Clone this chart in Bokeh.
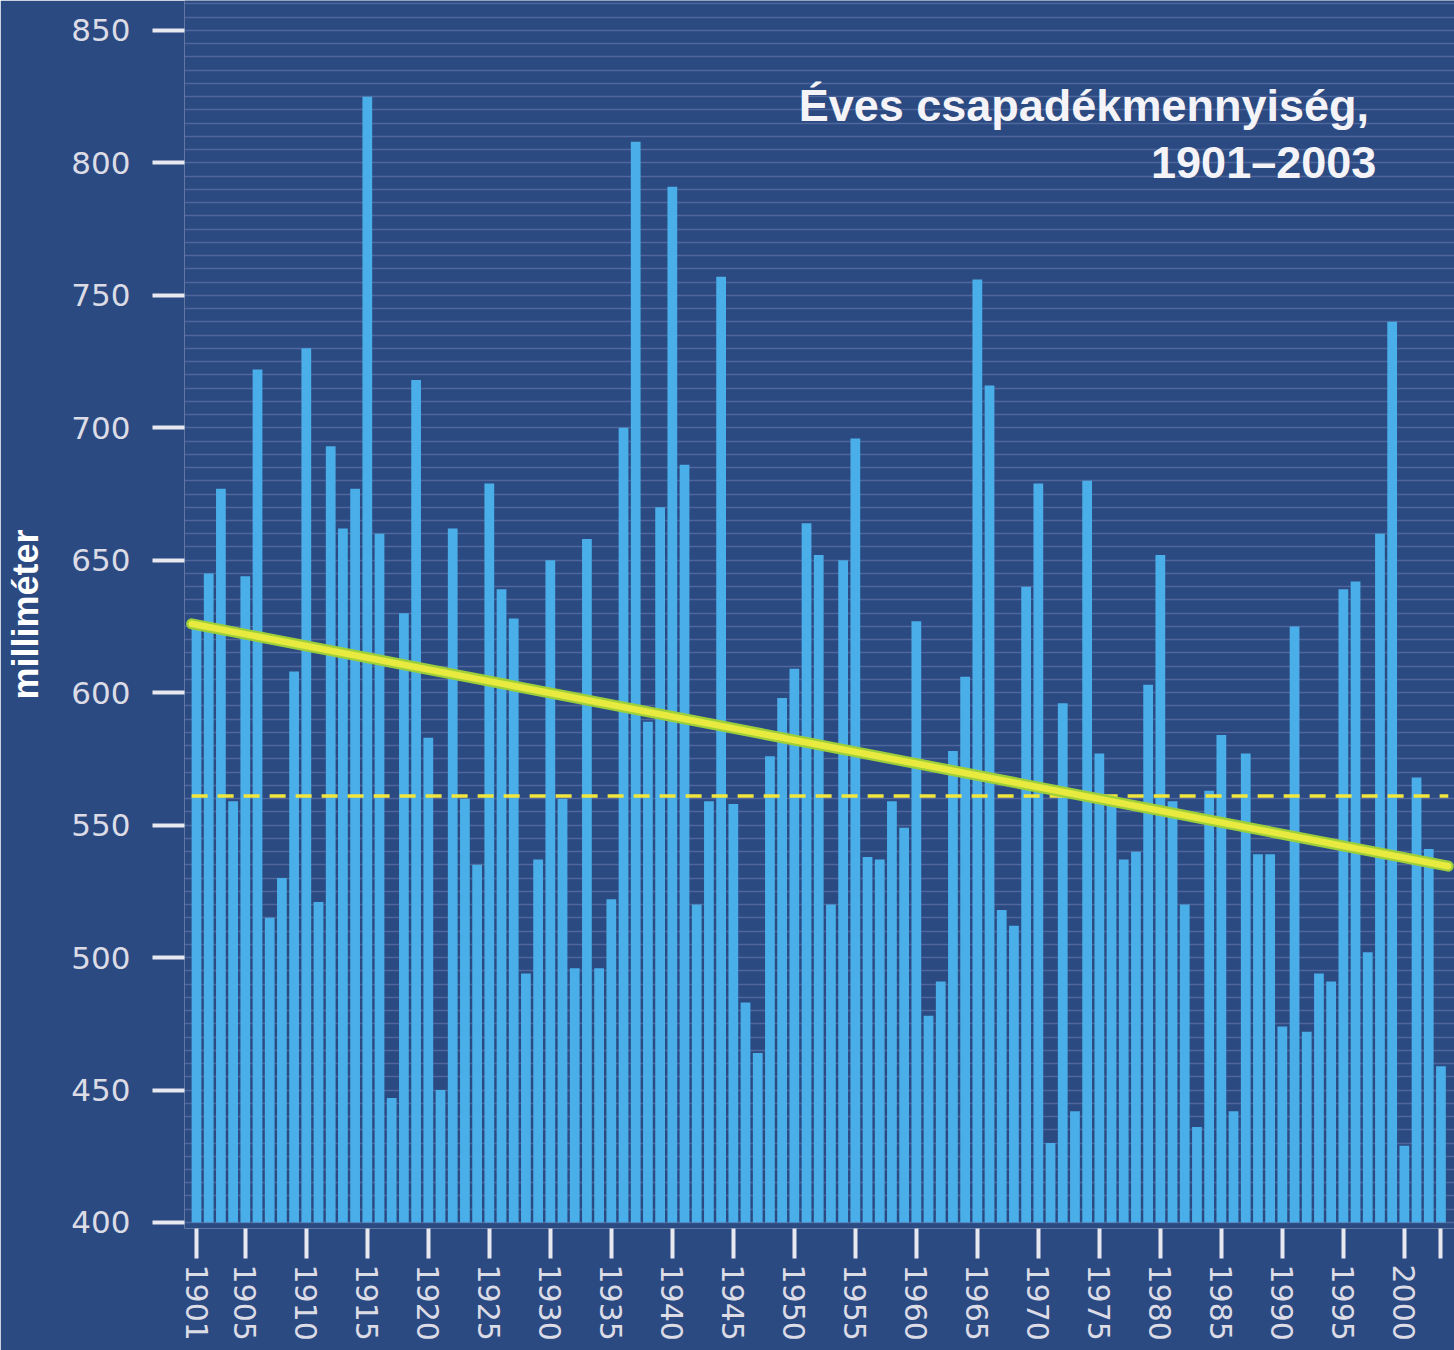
from bokeh.plotting import figure
from bokeh.models import Range1d, FixedTicker, SingleIntervalTicker, Label
from bokeh.embed import file_html
from bokeh.resources import INLINE

years = list(range(1901, 2004))
precip = [
    627, 645, 677, 559, 644, 722, 515, 530, 608, 730,
    521, 693, 662, 677, 825, 660, 447, 630, 718, 583,
    450, 662, 560, 535, 679, 639, 628, 494, 537, 650,
    560, 496, 658, 496, 522, 700, 808, 589, 670, 791,
    686, 520, 559, 757, 558, 483, 464, 576, 598, 609,
    664, 652, 520, 650, 696, 538, 537, 559, 549, 627,
    478, 491, 578, 606, 756, 716, 518, 512, 640, 679,
    430, 596, 442, 680, 577, 558, 537, 540, 603, 652,
    559, 520, 436, 563, 584, 442, 577, 539, 539, 474,
    625, 472, 494, 491, 639, 642, 502, 660, 740, 429,
    568, 541, 459,
]
y_ticks = [400, 450, 500, 550, 600, 650, 700, 750, 800, 850]
x_ticks = [1901, 1905, 1910, 1915, 1920, 1925, 1930, 1935, 1940, 1945, 1950,
           1955, 1960, 1965, 1970, 1975, 1980, 1985, 1990, 1995, 2000, 2003]
mean_level = 561
trend_start_year, trend_start_value = 1900.6, 626
trend_end_year, trend_end_value = 2003.6, 534.5
title_line1 = "Éves csapadékmennyiség,"
title_line2 = "1901–2003"
y_label = "milliméter"

BG = "#2c4a82"
p = figure(width=1454, height=1350, output_backend="svg", toolbar_location=None,
           x_range=Range1d(1900.016, 2004.11), y_range=Range1d(397.73, 861.3),
           min_border_left=184, min_border_right=0, min_border_top=0, min_border_bottom=122)
p.background_fill_color = BG
p.border_fill_color = BG
p.outline_line_color = None

p.xgrid.grid_line_color = None
p.ygrid.ticker = SingleIntervalTicker(interval=5)
p.ygrid.grid_line_color = "#7a8cba"
p.ygrid.grid_line_alpha = 0.45
p.ygrid.grid_line_width = 1.5

p.vbar(x=years, top=precip, bottom=400, width=0.8, fill_color="#4aaee8", line_color=None)

p.line([trend_start_year, trend_end_year], [mean_level, mean_level],
       line_color="#f2e63c", line_width=3.5, line_dash="16 10")
p.line([trend_start_year, trend_end_year], [trend_start_value, trend_end_value],
       line_color="#9ccf3a", line_width=11, line_cap="round")
p.line([trend_start_year, trend_end_year], [trend_start_value, trend_end_value],
       line_color="#e8ea40", line_width=6.5, line_cap="round")

for ax in (p.xaxis[0], p.yaxis[0]):
    ax.axis_line_color = None
    ax.major_tick_in = 0
    ax.minor_tick_line_color = None
    ax.major_tick_line_color = "#e8e8f0"
    ax.major_tick_line_width = 4
    ax.major_label_text_color = "#dcdce6"
    ax.major_label_text_font = "DejaVu Sans"
    ax.major_label_text_font_size = "31px"

p.yaxis.ticker = FixedTicker(ticks=y_ticks)
p.yaxis.major_tick_out = 32
p.yaxis.major_label_standoff = 22
p.yaxis.axis_label = y_label
p.yaxis.axis_label_text_font = "Liberation Sans Narrow, Liberation Sans"
p.yaxis.axis_label_text_font_style = "bold"
p.yaxis.axis_label_text_font_size = "36px"
p.yaxis.axis_label_text_color = "#ffffff"
p.yaxis.axis_label_standoff = 22

p.xaxis.ticker = FixedTicker(ticks=x_ticks)
p.xaxis.major_label_overrides = {2003: ""}
p.xaxis.major_tick_out = 30
p.xaxis.major_label_standoff = 6
p.xaxis.major_label_orientation = "vertical"
p.xaxis.major_label_text_font_size = "30px"

for txt, xx, yy in ((title_line1, 1997.1, 821.8), (title_line2, 1997.7, 800.3)):
    p.add_layout(Label(x=xx, y=yy, text=txt, text_align="right", text_baseline="alphabetic",
                       text_font="Liberation Sans", text_font_style="bold",
                       text_font_size="45px", text_color="#f4f4f8"))

open("out.html", "w").write(file_html(p, INLINE))
